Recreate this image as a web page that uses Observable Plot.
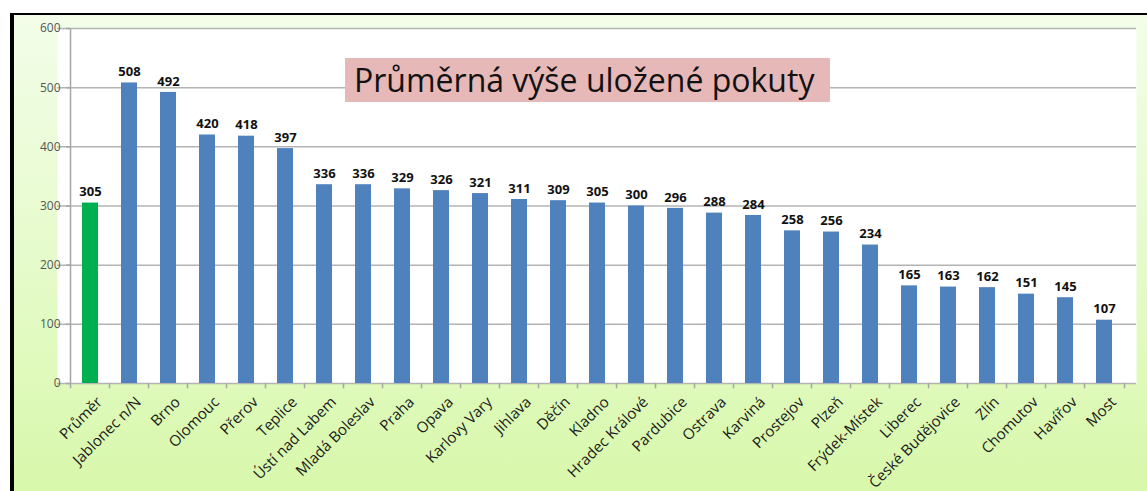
<!DOCTYPE html>
<html>
<head>
<meta charset="utf-8">
<script src="https://cdn.jsdelivr.net/npm/d3@7"></script>
<script src="https://cdn.jsdelivr.net/npm/@observablehq/plot@0.6"></script>
<style>
  html, body { margin: 0; padding: 0; background: #ffffff; }
  #wrap { position: relative; width: 1147px; height: 491px; overflow: hidden; }
  #frame {
    position: absolute; left: 10px; top: 13px; width: 1137px; height: 478px;
    box-sizing: border-box;
    border-left: 4px solid #000; border-top: 2px solid #000;
    background: linear-gradient(to bottom, #f3fde9 0%, #e6fbcc 50%, #d8f8ab 100%);
  }
  #chart { position: absolute; left: 0; top: 0; }
  #title {
    position: absolute; left: 345px; top: 58px; width: 485px; height: 44px;
    background: #e6b8b7; box-sizing: border-box; padding-left: 9px;
    font-family: "Open Sans", sans-serif; font-size: 32px; line-height: 44px; color: #111;
    white-space: nowrap;
  }
</style>
</head>
<body>
<div id="wrap">
  <div id="frame"></div>
  <div id="chart"></div>
  <div id="title">Průměrná výše uložené pokuty</div>
</div>
<script>
const cities = ["Průměr","Jablonec n/N","Brno","Olomouc","Přerov","Teplice","Ústí nad Labem","Mladá Boleslav","Praha","Opava","Karlovy Vary","Jihlava","Děčín","Kladno","Hradec Králové","Pardubice","Ostrava","Karviná","Prostejov","Plzeň","Frýdek-Místek","Liberec","České Budějovice","Zlín","Chomutov","Havířov","Most"];
const values = [305,508,492,420,418,397,336,336,329,326,321,311,309,305,300,296,288,284,258,256,234,165,163,162,151,145,107];
const yTicks = [0,100,200,300,400,500,600];

const data = cities.map((c, i) => ({city: c, value: values[i], avg: i === 0}));

const W = 1147, H = 491, mL = 57, mR = 11, mT = 28, mB = 108;
const step = (W - mL - mR) / cities.length;
const half = step / 2;
const first = () => cities[0];

const chart = Plot.plot({
  width: W, height: H,
  marginLeft: mL, marginRight: mR, marginTop: mT, marginBottom: mB,
  style: {background: "transparent", fontFamily: "'Open Sans', sans-serif"},
  x: {domain: cities, paddingInner: 0.6, paddingOuter: 0.3, align: 0.5, axis: null},
  y: {domain: [0, 600], axis: null},
  marks: [
    Plot.frame({fill: "#ffffff", stroke: null}),
    Plot.ruleY(yTicks, {stroke: "#b4b4b4", strokeWidth: 1.5}),
    Plot.ruleX([cities[0]], {dx: -half, y1: 0, y2: 600, stroke: "#a6a6a6", strokeWidth: 1.5}),
    Plot.ruleX(cities, {dx: -half, y1: 0, y2: -9, stroke: "#a6a6a6", strokeWidth: 1.5}),
    Plot.ruleX([cities[cities.length - 1]], {dx: half, y1: 0, y2: -9, stroke: "#a6a6a6", strokeWidth: 1.5}),
    Plot.tickY(yTicks, {x: first, y: d => d, insetRight: step * 0.4 - 4, dx: -step * 0.3 - 4, stroke: "#a6a6a6", strokeWidth: 1.5}),
    Plot.text(yTicks, {x: first, y: d => d, dx: -half - 10, text: d => String(d), textAnchor: "end", fontSize: 12, fill: "#555"}),
    Plot.barY(data, {x: "city", y: "value", fill: d => d.avg ? "#00b050" : "#4f81bd"}),
    Plot.text(data, {x: "city", y: "value", text: d => String(d.value), dy: -11, fontSize: 13, fontWeight: "bold", fill: "#111"}),
    Plot.text(data, {x: "city", y: 0, text: "city", dy: 12, dx: 5, rotate: -45, textAnchor: "end", fontSize: 15, fill: "#1a1a1a", lineAnchor: "top"})
  ]
});
document.getElementById("chart").appendChild(chart);
</script>
</body>
</html>
